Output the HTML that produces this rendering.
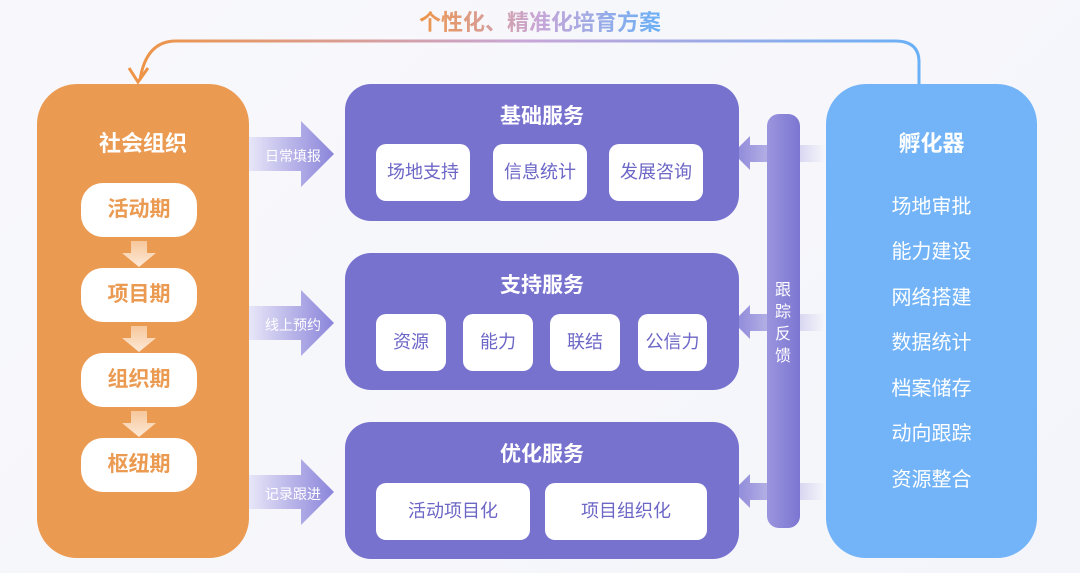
<!DOCTYPE html>
<html><head><meta charset="utf-8"><style>
body{margin:0;width:1080px;height:573px;background:linear-gradient(135deg,#f8f8fc,#f4f5fa);position:relative;overflow:hidden;font-family:"Liberation Sans","Noto Sans CJK SC",sans-serif}
.a{position:absolute}
.org{left:37px;top:84px;width:212px;height:474px;background:#eb9a52;border-radius:40px}
.pill{position:absolute;left:44px;width:116px;height:54px;background:#fff;border-radius:22px;color:#eb9a52;font-weight:bold;font-size:21px;text-align:center;line-height:54px}
.dn{position:absolute;left:85px;width:34px;height:26px}
.pb{left:345px;width:394px;height:137px;background:#7872cf;border-radius:26px}
.pb h3{margin:0;position:absolute;top:16px;width:100%;text-align:center;color:#fff;font-size:21px}
.w{position:absolute;background:#fff;border-radius:10px;color:#6c66c6;font-size:18px;text-align:center;line-height:57px;height:57px}
.blue{left:826px;top:84px;width:211px;height:474px;background:#72b4f7;border-radius:40px;color:#fff;text-align:center}
.blue div{position:absolute;width:100%;font-size:20px}
.bar{left:767px;top:114px;width:33px;height:414px;border-radius:12px;background:linear-gradient(90deg,#9b95de,#7c76d2)}
.lab{position:absolute;color:#fff;font-size:14px}
</style></head><body>
<svg class="a" style="left:0;top:0" width="1080" height="573">
<defs><linearGradient id="g" x1="0" x2="1"><stop offset="0" stop-color="#ee9447"/><stop offset=".5" stop-color="#c7a6d8"/><stop offset="1" stop-color="#6ab0f6"/></linearGradient>
<linearGradient id="ra" x1="0" x2="1"><stop offset="0" stop-color="#e8e6f8"/><stop offset="1" stop-color="#8a84da"/></linearGradient>
<linearGradient id="la" x1="0" x2="1"><stop offset="0" stop-color="#8b85d8"/><stop offset="1" stop-color="#8b85d8" stop-opacity="0"/></linearGradient>
<linearGradient id="da" x1="0" y1="0" x2="0" y2="1"><stop offset="0" stop-color="#f6c79c"/><stop offset="1" stop-color="#fff"/></linearGradient></defs>
<path d="M919 84 V62 Q919 41 895 41 H176 Q146 41 140 80" fill="none" stroke="url(#g)" stroke-width="3"/>
<path d="M129 68 L138 82 L148 68" fill="none" stroke="#ee9447" stroke-width="3"/>
<text x="540" y="30" text-anchor="middle" font-size="22" font-weight="bold" fill="url(#g)" font-family="Liberation Sans,Noto Sans CJK SC,sans-serif">个性化、精准化培育方案</text>
<g fill="url(#ra)">
<path d="M249 137 H301 V121 L334 154 L301 187 V171 H249Z"/>
<path d="M249 306 H301 V290 L334 323 L301 356 V340 H249Z"/>
<path d="M249 475 H301 V459 L334 492 L301 525 V509 H249Z"/>
</g>
<g fill="url(#la)">
<path d="M733 153 L750 136 V145 H825 V162 H750 V170Z"/>
<path d="M733 322 L750 305 V314 H825 V331 H750 V339Z"/>
<path d="M733 491 L750 474 V483 H825 V500 H750 V508Z"/>
</g>
</svg>
<div class="a lab" style="left:265px;top:146px">日常填报</div>
<div class="a lab" style="left:265px;top:315px">线上预约</div>
<div class="a lab" style="left:265px;top:484px">记录跟进</div>
<div class="a org">
<div style="position:absolute;top:42px;width:100%;text-align:center;color:#fff;font-weight:bold;font-size:22px">社会组织</div>
<div class="pill" style="top:99px">活动期</div>
<div class="pill" style="top:184px">项目期</div>
<div class="pill" style="top:269px">组织期</div>
<div class="pill" style="top:354px">枢纽期</div>
<svg class="dn" style="top:157px" viewBox="0 0 34 26"><path d="M9 0 H25 V12 H34 L17 26 L0 12 H9Z" fill="url(#da2)"/><defs><linearGradient id="da2" x1="0" y1="0" x2="0" y2="1"><stop offset="0" stop-color="#f6c79c"/><stop offset="1" stop-color="#fde9d6"/></linearGradient></defs></svg>
<svg class="dn" style="top:242px" viewBox="0 0 34 26"><path d="M9 0 H25 V12 H34 L17 26 L0 12 H9Z" fill="url(#da2)"/></svg>
<svg class="dn" style="top:327px" viewBox="0 0 34 26"><path d="M9 0 H25 V12 H34 L17 26 L0 12 H9Z" fill="url(#da2)"/></svg>
</div>
<div class="a pb" style="top:84px"><h3>基础服务</h3>
<div class="w" style="left:31px;top:60px;width:94px">场地支持</div>
<div class="w" style="left:148px;top:60px;width:94px">信息统计</div>
<div class="w" style="left:264px;top:60px;width:94px">发展咨询</div></div>
<div class="a pb" style="top:253px"><h3>支持服务</h3>
<div class="w" style="left:31px;top:61px;width:70px">资源</div>
<div class="w" style="left:118px;top:61px;width:70px">能力</div>
<div class="w" style="left:205px;top:61px;width:70px">联结</div>
<div class="w" style="left:293px;top:61px;width:69px">公信力</div></div>
<div class="a pb" style="top:422px"><h3>优化服务</h3>
<div class="w" style="left:31px;top:61px;width:154px">活动项目化</div>
<div class="w" style="left:200px;top:61px;width:162px">项目组织化</div></div>
<div class="a bar"></div>
<div class="a" style="left:773px;top:280px;width:20px;color:#fff;font-size:16px;line-height:22px;text-align:center">跟<br>踪<br>反<br>馈</div>
<div class="a blue">
<div style="top:42px;font-size:22px;font-weight:bold">孵化器</div>
<div style="top:106px">场地审批</div><div style="top:151px">能力建设</div><div style="top:197px">网络搭建</div><div style="top:242px">数据统计</div><div style="top:288px">档案储存</div><div style="top:333px">动向跟踪</div><div style="top:379px">资源整合</div>
</div>
</body></html>
